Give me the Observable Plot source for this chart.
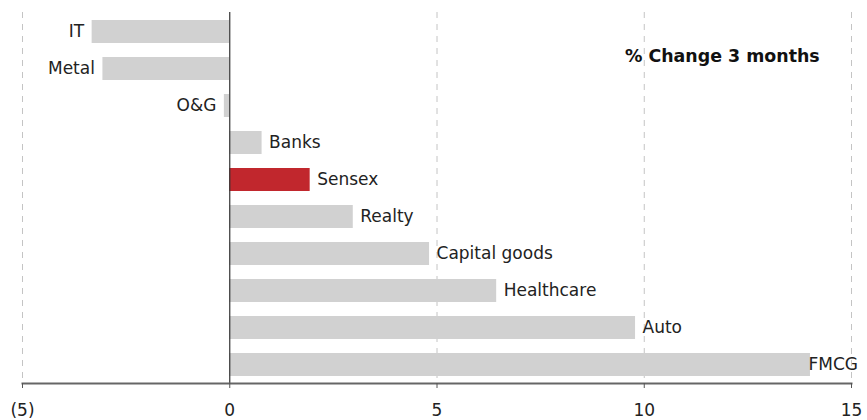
<!DOCTYPE html>
<html><head><meta charset="utf-8">
<script src="https://cdn.jsdelivr.net/npm/d3@7"></script>
<script src="https://cdn.jsdelivr.net/npm/@observablehq/plot@0.6"></script>
<style>
body{margin:0;background:#fff;}
#chart{position:relative;width:867px;height:420px;font-family:"DejaVu Sans",sans-serif;}
</style>
</head><body>
<div id="chart"></div>
<script>
const sectors = ["IT","Metal","O&G","Banks","Sensex","Realty","Capital goods","Healthcare","Auto","FMCG"];
const changes = [-3.32,-3.06,-0.13,0.78,1.94,2.98,4.82,6.44,9.79,14.01];
const highlight = "Sensex";
const xTicks = [-5,0,5,10,15];
const gridTicks = [-5,5,10,15];
const title = "% Change 3 months";

const data = sectors.map((s,i)=>({sector:s, value:changes[i]}));
const fmt = v => v < 0 ? `(${Math.abs(v)})` : `${v}`;
const lastSector = sectors[sectors.length-1];
const FS = 17;

const plot = Plot.plot({
  width: 867, height: 420,
  marginLeft: 22, marginRight: 16, marginTop: 12, marginBottom: 37,
  style: {fontFamily: "'DejaVu Sans', sans-serif", fontSize: FS + "px", color: "#222"},
  x: {domain: [-5,15], ticks: xTicks, tickFormat: fmt, label: null},
  y: {domain: sectors, paddingInner: 0.38, paddingOuter: 0.16, axis: null},
  marks: [
    Plot.ruleX(gridTicks, {stroke: "#c4c4c4", strokeDasharray: "6,6", strokeWidth: 1}),
    Plot.barX(data, {x: "value", y: "sector", fill: d => d.sector === highlight ? "#c1272d" : "#d1d1d1"}),
    Plot.ruleX([0], {stroke: "#333", strokeWidth: 1.2}),
    Plot.text(data.filter(d => d.value < 0), {x: "value", y: "sector", text: "sector", textAnchor: "end", dx: -8, fill: "#222", fontSize: FS}),
    Plot.text(data.filter(d => d.value >= 0 && d.sector !== lastSector), {x: "value", y: "sector", text: "sector", textAnchor: "start", dx: 7, fill: "#222", fontSize: FS}),
    Plot.text(data.filter(d => d.sector === lastSector), {x: "value", y: "sector", text: "sector", textAnchor: "start", dx: -2, fill: "#222", fontSize: FS}),
    Plot.frame({anchor: "bottom", stroke: "#666", strokeWidth: 2}),
    Plot.axisX({ticks: xTicks, tickFormat: fmt, tickSize: 5, tickPadding: 15, stroke: "#555", label: null, fontSize: FS})
  ]
});
document.getElementById("chart").appendChild(plot);
const t = document.createElement("div");
t.textContent = title;
t.style.cssText = "position:absolute;left:625px;top:46px;font-weight:bold;font-size:17.4px;color:#111;white-space:nowrap;font-family:'DejaVu Sans',sans-serif;";
document.getElementById("chart").appendChild(t);
</script>
</body></html>
